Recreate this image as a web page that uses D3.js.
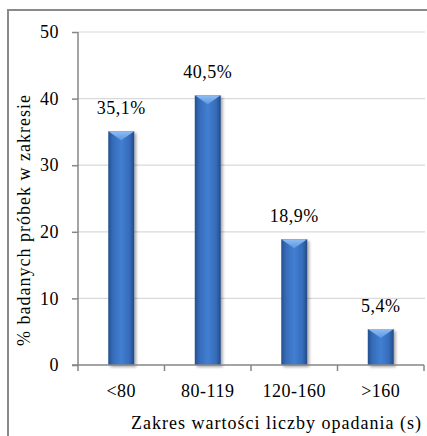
<!DOCTYPE html>
<html>
<head>
<meta charset="utf-8">
<script src="https://cdn.jsdelivr.net/npm/d3@7"></script>
<style>
  html, body { margin: 0; padding: 0; background: #fff; }
  svg text { font-family: "Liberation Serif", "Times New Roman", serif; fill: #000; letter-spacing: 0.5px; }
  svg text.title { letter-spacing: 1px; }
</style>
</head>
<body>
<svg id="chart" width="427" height="436"></svg>
<script>
// Share of tested samples per falling-number range
const categories = ["<80", "80-119", "120-160", ">160"];
const values = [35.1, 40.5, 18.9, 5.4];
const valueLabels = ["35,1%", "40,5%", "18,9%", "5,4%"];
const yTicks = [0, 10, 20, 30, 40, 50];
const yTitle = "% badanych próbek w zakresie";
const xTitle = "Zakres wartości liczby opadania (s)";

const FONT = "Liberation Serif";
const FS = 18;

const svg = d3.select("#chart");
const plot = { left: 78, right: 424, top: 32, bottom: 365 };

const x = d3.scaleBand().domain(categories).range([plot.left, plot.right]).paddingInner(0.7).paddingOuter(0.35);
const xEdges = d3.scaleLinear().domain([0, categories.length]).range([plot.left, plot.right]);
const y = d3.scaleLinear().domain([0, 50]).range([plot.bottom, plot.top]);

const defs = svg.append("defs");
const body = defs.append("linearGradient").attr("id", "barBody").attr("x1", 0).attr("x2", 1).attr("y1", 0).attr("y2", 0);
body.append("stop").attr("offset", "0%").attr("stop-color", "#24508f");
body.append("stop").attr("offset", "18%").attr("stop-color", "#366cba");
body.append("stop").attr("offset", "50%").attr("stop-color", "#427fd2");
body.append("stop").attr("offset", "82%").attr("stop-color", "#366cba");
body.append("stop").attr("offset", "100%").attr("stop-color", "#224a86");

const cap = defs.append("linearGradient").attr("id", "barCap").attr("x1", 0).attr("x2", 0).attr("y1", 0).attr("y2", 1);
cap.append("stop").attr("offset", "0%").attr("stop-color", "#8fbef3");
cap.append("stop").attr("offset", "100%").attr("stop-color", "#5b97e2");

const shadow = defs.append("filter").attr("id", "barShadow").attr("x", "-30%").attr("y", "-10%").attr("width", "160%").attr("height", "130%");
shadow.append("feGaussianBlur").attr("in", "SourceAlpha").attr("stdDeviation", 1.6).attr("result", "blur");
shadow.append("feOffset").attr("in", "blur").attr("dx", 1.5).attr("dy", 2).attr("result", "off");
shadow.append("feComponentTransfer").attr("in", "off").attr("result", "soft")
  .append("feFuncA").attr("type", "linear").attr("slope", 0.35);
const merge = shadow.append("feMerge");
merge.append("feMergeNode").attr("in", "soft");
merge.append("feMergeNode").attr("in", "SourceGraphic");

// Outer frame (top and left edges)
svg.append("path")
  .attr("d", "M8,436 V10 H427")
  .attr("fill", "none").attr("stroke", "#8a8a8a").attr("stroke-width", 2);

// Gridlines
svg.append("g").selectAll("line").data(yTicks.filter(d => d > 0)).join("line")
  .attr("x1", plot.left).attr("x2", plot.right + 1)
  .attr("y1", d => y(d)).attr("y2", d => y(d))
  .attr("stroke", "#d9d9d9").attr("stroke-width", 1.2);

// Bars
const bars = svg.append("g").selectAll("g").data(categories).join("g").attr("filter", "url(#barShadow)");
bars.append("rect")
  .attr("x", d => x(d)).attr("width", x.bandwidth())
  .attr("y", (d, i) => y(values[i])).attr("height", (d, i) => y(0) - y(values[i]))
  .attr("fill", "url(#barBody)");
bars.append("path")
  .attr("d", (d, i) => {
    const x0 = x(d), x1 = x(d) + x.bandwidth(), t = y(values[i]);
    return `M${x0},${t} H${x1} L${(x0 + x1) / 2},${t + 9} Z`;
  })
  .attr("fill", "url(#barCap)");

// Axes
const yAxis = d3.axisLeft(y).tickValues(yTicks).tickSize(6).tickPadding(13).tickFormat(d3.format("d"));
const gy = svg.append("g").attr("transform", `translate(${plot.left},0)`).call(yAxis);
gy.select(".domain").remove();
gy.selectAll(".tick line").attr("stroke", "#868686").attr("stroke-width", 1.5);
gy.selectAll(".tick text").attr("font-size", FS).attr("font-family", FONT);

svg.append("line").attr("x1", plot.left).attr("x2", plot.left).attr("y1", plot.top).attr("y2", plot.bottom + 6)
  .attr("stroke", "#868686").attr("stroke-width", 1.5);
svg.append("line").attr("x1", plot.left - 6).attr("x2", plot.right).attr("y1", plot.bottom).attr("y2", plot.bottom)
  .attr("stroke", "#868686").attr("stroke-width", 1.5);
svg.append("g").selectAll("line").data(d3.range(1, categories.length + 1)).join("line")
  .attr("x1", d => xEdges(d)).attr("x2", d => xEdges(d))
  .attr("y1", plot.bottom).attr("y2", plot.bottom + 6)
  .attr("stroke", "#868686").attr("stroke-width", 1.5);

const xAxis = d3.axisBottom(x).tickSize(0).tickPadding(0);
const gx = svg.append("g").attr("transform", `translate(0,${plot.bottom})`).call(xAxis);
gx.select(".domain").remove();
gx.selectAll(".tick text").attr("font-size", FS).attr("font-family", FONT)
  .attr("dy", null).attr("y", 32);

// Value labels
svg.append("g").selectAll("text").data(categories).join("text")
  .attr("x", d => x(d) + x.bandwidth() / 2)
  .attr("y", (d, i) => y(values[i]) - 17)
  .attr("text-anchor", "middle").attr("font-size", FS)
  .text((d, i) => valueLabels[i]);

// Axis titles
svg.append("text").attr("class", "title").attr("x", 422).attr("y", 429).attr("text-anchor", "end").attr("font-size", FS).text(xTitle);
svg.append("text").attr("class", "title").attr("transform", "translate(30,220) rotate(-90)").attr("text-anchor", "middle").attr("font-size", FS).text(yTitle);
</script>
</body>
</html>
